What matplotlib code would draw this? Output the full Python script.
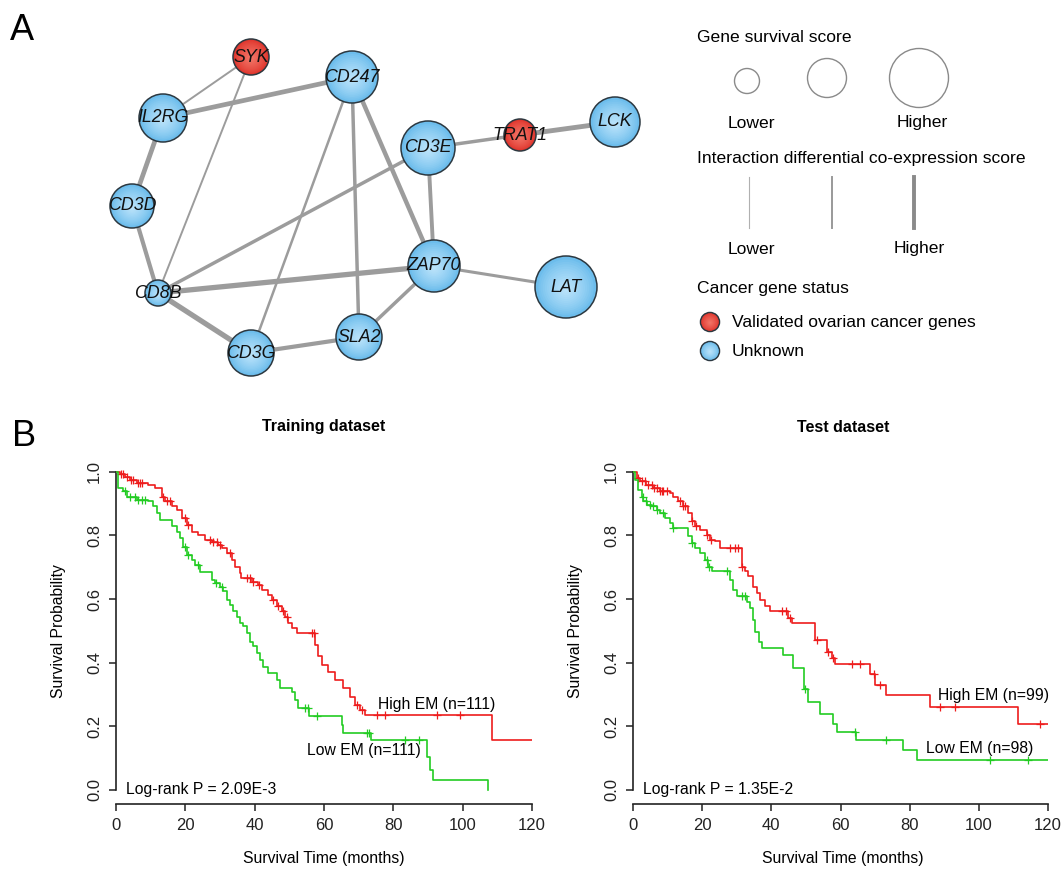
import numpy as np
import matplotlib
matplotlib.use("Agg")
from matplotlib import pyplot as plt
from matplotlib.patches import Circle
from matplotlib.colors import to_rgb

plt.rcParams['font.family'] = ['Liberation Sans', 'DejaVu Sans']

W, H = 1063, 869

# ---- panel A: network (positions in pixels) ----
gene_names = ["SYK", "CD247", "IL2RG", "CD3E", "TRAT1", "LCK",
              "CD3D", "ZAP70", "LAT", "CD8B", "SLA2", "CD3G"]
gene_x = [251, 352, 163, 428, 520, 615, 132, 434, 566, 158, 359, 251]
gene_y = [57, 77, 118, 148, 135, 122, 206, 266, 287, 293, 337, 353]
gene_r = [18, 26, 24, 27, 16, 25, 22, 26, 31, 13, 23, 23]
gene_validated = [1, 0, 0, 0, 1, 0, 0, 0, 0, 0, 0, 0]

edge_a = ["SYK", "SYK", "IL2RG", "IL2RG", "CD3D", "CD247", "CD247", "CD247", "CD3E",
          "CD3E", "TRAT1", "CD3E", "CD8B", "CD8B", "CD3G", "SLA2", "ZAP70"]
edge_b = ["IL2RG", "CD8B", "CD247", "CD3D", "CD8B", "CD3G", "SLA2", "ZAP70", "CD8B",
          "TRAT1", "LCK", "ZAP70", "ZAP70", "CD3G", "SLA2", "ZAP70", "LAT"]
edge_w = [1.4, 1.4, 3.4, 3.4, 3.0, 1.8, 2.5, 3.2, 2.5,
          2.5, 3.5, 2.8, 3.8, 3.8, 3.0, 2.5, 2.2]

# ---- panel B: Kaplan-Meier curves (months, survival) ----
train_hi_t = [0, 1.2, 2.6, 4.0, 6.0, 9.3, 11.2, 13.2, 14.1, 16.1, 17.5, 18.9, 20.4, 21.8,
              23.7, 25.7, 27.6, 29.5, 30.5, 31.9, 33.4, 34.3, 35.8, 36.2, 39.1, 41.1, 42.0,
              43.9, 44.9, 46.3, 47.8, 48.7, 49.7, 50.7, 52.1, 57.4, 58.3, 59.3, 61.2, 63.2,
              65.4, 67.5, 68.9, 70.4, 71.8, 108.5]
train_hi_s = [1.0, 0.994, 0.985, 0.975, 0.964, 0.959, 0.949, 0.922, 0.907, 0.891, 0.880,
              0.854, 0.833, 0.812, 0.802, 0.786, 0.778, 0.770, 0.760, 0.744, 0.723, 0.702,
              0.681, 0.666, 0.655, 0.645, 0.629, 0.613, 0.597, 0.577, 0.561, 0.545, 0.524,
              0.508, 0.493, 0.456, 0.420, 0.393, 0.372, 0.346, 0.320, 0.293, 0.267, 0.252,
              0.236, 0.157]
train_hi_cens = [1.5, 2.1, 3.1, 4.3, 5.0, 6.3, 6.9, 7.4, 13.6, 14.6, 15.6, 19.9, 20.9, 27.1,
                 28.1, 29.0, 30.0, 33.0, 37.7, 38.7, 39.6, 41.3, 45.4, 46.8, 48.3, 49.2,
                 56.4, 57.0, 69.4, 70.9, 75.2, 77.6, 92.5, 99.2]

train_lo_t = [0, 0.7, 2.1, 3.1, 6.0, 9.3, 10.8, 11.7, 12.7, 16.1, 17.5, 18.5, 19.4, 20.4,
              21.8, 22.8, 24.2, 27.6, 28.6, 30.0, 31.0, 31.9, 32.9, 33.8, 34.8, 35.8, 36.7,
              37.7, 38.7, 39.6, 40.6, 41.5, 42.5, 43.9, 46.3, 47.3, 50.7, 51.6, 52.6, 55.7,
              65.1, 65.6, 73.7, 89.6, 90.5, 91.5, 107.4]
train_lo_s = [1.0, 0.949, 0.938, 0.922, 0.912, 0.907, 0.891, 0.870, 0.849, 0.828, 0.812,
              0.791, 0.765, 0.739, 0.723, 0.708, 0.686, 0.660, 0.650, 0.639, 0.624, 0.597,
              0.582, 0.561, 0.545, 0.524, 0.514, 0.493, 0.466, 0.451, 0.430, 0.409, 0.388,
              0.367, 0.346, 0.320, 0.309, 0.283, 0.257, 0.231, 0.204, 0.178, 0.157, 0.105,
              0.063, 0.031, 0.0]
train_lo_cens = [2.6, 4.0, 5.5, 6.4, 7.4, 8.4, 19.9, 20.9, 23.7, 28.9, 30.5, 54.5, 55.5,
                 57.9, 72.3, 73.0, 83.4, 87.5]

test_hi_t = [0, 1.1, 2.0, 3.9, 5.9, 7.8, 10.7, 11.7, 13.1, 14.5, 16.0, 17.0, 17.9, 19.4,
             21.3, 22.3, 23.7, 25.2, 31.4, 32.4, 33.3, 34.8, 35.8, 36.7, 38.2, 39.6, 44.9,
             45.9, 52.6, 56.0, 57.5, 58.4, 68.4, 70.0, 73.2, 86.0, 111.3]
test_hi_s = [1.0, 0.980, 0.970, 0.959, 0.949, 0.938, 0.933, 0.922, 0.907, 0.891, 0.870,
             0.844, 0.828, 0.818, 0.802, 0.786, 0.781, 0.760, 0.702, 0.687, 0.671, 0.639,
             0.619, 0.597, 0.577, 0.561, 0.540, 0.524, 0.472, 0.435, 0.414, 0.395, 0.366,
             0.330, 0.297, 0.260, 0.206]
test_hi_cens = [1.5, 2.5, 3.5, 4.4, 5.4, 6.2, 6.8, 7.8, 8.3, 8.8, 9.7, 13.6, 14.5, 15.0,
                17.2, 18.2, 21.5, 22.5, 28.1, 29.5, 30.5, 31.6, 43.0, 44.2, 45.4, 53.1,
                56.5, 57.7, 63.2, 65.6, 69.7, 71.4, 88.8, 93.1, 117.7]

test_lo_t = [0, 0.6, 1.5, 2.5, 3.0, 4.0, 5.4, 6.8, 7.8, 9.3, 10.7, 11.7, 16.0, 17.0, 17.9,
             19.4, 20.8, 21.8, 22.7, 28.1, 29.0, 30.0, 32.9, 33.8, 34.8, 35.3, 36.5, 37.2,
             43.3, 46.2, 49.5, 50.5, 54.2, 57.7, 58.9, 64.5, 78.1, 82.0]
test_lo_s = [1.0, 0.975, 0.943, 0.922, 0.907, 0.896, 0.891, 0.880, 0.870, 0.854, 0.839,
             0.823, 0.797, 0.776, 0.760, 0.744, 0.723, 0.702, 0.687, 0.660, 0.629, 0.608,
             0.592, 0.571, 0.535, 0.498, 0.466, 0.445, 0.425, 0.383, 0.316, 0.275, 0.240,
             0.206, 0.183, 0.157, 0.126, 0.094]
test_lo_cens = [2.9, 3.9, 4.9, 5.9, 6.8, 8.8, 11.7, 17.2, 21.3, 21.9, 27.1, 31.4, 32.4,
                49.6, 64.2, 73.2, 103.2, 114.3]

x_ticks = [0, 20, 40, 60, 80, 100, 120]
y_ticks = [0.0, 0.2, 0.4, 0.6, 0.8, 1.0]

RED = '#ee1c1c'
GREEN = '#22cc22'


def blend(c1, c2, f):
    a, b = np.array(to_rgb(c1)), np.array(to_rgb(c2))
    return tuple(a * (1 - f) + b * f)


def draw_node(ax, x, y, r, validated):
    outer, inner = ('#e0372f', '#f3786a') if validated else ('#6dbdec', '#bfe5fb')
    ax.add_patch(Circle((x, y), r, facecolor=outer, edgecolor='#2c3840', lw=1.1, zorder=3))
    n = 14
    for k in range(1, n):
        f = 1 - k / n
        ax.add_patch(Circle((x, y + r * 0.08 * (k / n)), r * f * 0.96,
                            facecolor=blend(outer, inner, (k / n) ** 0.8),
                            edgecolor='none', zorder=3))


def km(ax, times, surv, end, cens, color):
    t = np.append(times, end)
    s = np.append(surv, surv[-1])
    ax.step(t, s, where='post', color=color, lw=1.2, zorder=3)
    idx = np.searchsorted(times, cens, side='right') - 1
    ax.plot(cens, np.array(surv)[idx], ls='none', marker='+', ms=6, mew=0.9,
            color=color, zorder=3)


fig = plt.figure(figsize=(W / 100, H / 100), dpi=100)
ax = fig.add_axes([0, 0, 1, 1])
ax.set_xlim(0, W)
ax.set_ylim(H, 0)
ax.axis('off')

pos = {g: (x, y) for g, x, y in zip(gene_names, gene_x, gene_y)}
for a, b, w in zip(edge_a, edge_b, edge_w):
    ax.plot([pos[a][0], pos[b][0]], [pos[a][1], pos[b][1]], color='#9c9c9c', lw=w,
            solid_capstyle='butt', zorder=1)
for g, x, y, r, v in zip(gene_names, gene_x, gene_y, gene_r, gene_validated):
    draw_node(ax, x, y, r, v)
    ax.text(x, y, g, fontsize=12.8, style='italic', ha='center', va='center',
            color='#111111', zorder=4)

ax.text(22, 30, "A", fontsize=26, ha='center', va='center')
ax.text(24, 437, "B", fontsize=26, ha='center', va='center')

# legend of panel A
lfs = 12.6
ax.text(697, 37, "Gene survival score", fontsize=lfs, va='center')
for cx, cy, cr in [(747, 81, 12.5), (827, 78, 19.5), (919, 78, 29.5)]:
    ax.add_patch(Circle((cx, cy), cr, facecolor='none', edgecolor='#8a8a8a', lw=1.0))
ax.text(751, 123, "Lower", fontsize=lfs, ha='center', va='center')
ax.text(922, 123, "Higher", fontsize=lfs, ha='center', va='center')
ax.text(697, 159, "Interaction differential co-expression score", fontsize=lfs, va='center')
for lx, lw, lc in [(749, 0.8, '#b0b0b0'), (832, 1.4, '#999999'), (914, 2.8, '#8a8a8a')]:
    ax.plot([lx, lx], [177, 228], color=lc, lw=lw)
ax.text(751, 249, "Lower", fontsize=lfs, ha='center', va='center')
ax.text(919, 249, "Higher", fontsize=lfs, ha='center', va='center')
ax.text(697, 288, "Cancer gene status", fontsize=lfs, va='center')
draw_node(ax, 710, 322, 9.5, 1)
draw_node(ax, 710, 351, 9.5, 0)
ax.text(732, 322, "Validated ovarian cancer genes", fontsize=lfs, va='center')
ax.text(732, 351, "Unknown", fontsize=lfs, va='center')

# panel B
panels = [
    (116, 416, "Training dataset", 324,
     (train_hi_t, train_hi_s, 120, train_hi_cens), (train_lo_t, train_lo_s, 107.4, train_lo_cens),
     ("High EM (n=111)", 75.7, 0.268), ("Low EM (n=111)", 55.1, 0.125), "Log-rank P = 2.09E-3"),
    (633, 415, "Test dataset", 843,
     (test_hi_t, test_hi_s, 120, test_hi_cens), (test_lo_t, test_lo_s, 120, test_lo_cens),
     ("High EM (n=99)", 88.3, 0.298), ("Low EM (n=98)", 84.6, 0.130), "Log-rank P = 1.35E-2"),
]
fs = 11.3
for left, width, title, cx, hi, lo, hi_lab, lo_lab, ptxt in panels:
    kax = fig.add_axes([left / W, (H - 804) / H, width / W, (804 - 459) / H])
    kax.patch.set_visible(False)
    km(kax, *hi, RED)
    km(kax, *lo, GREEN)
    kax.set_xlim(0, 120)
    kax.set_ylim(-0.044, 1.04)
    for sp in ['top', 'right']:
        kax.spines[sp].set_visible(False)
    kax.spines['left'].set_bounds(0, 1)
    kax.spines['bottom'].set_bounds(0, 120)
    for sp in ['left', 'bottom']:
        kax.spines[sp].set_linewidth(1.2)
        kax.spines[sp].set_color('#222222')
    kax.set_xticks(x_ticks)
    kax.set_yticks(y_ticks)
    kax.set_yticklabels(["%.1f" % v for v in y_ticks], rotation=90, va='center')
    kax.tick_params(direction='out', length=5, width=1.1, labelsize=12, pad=5, colors='#222222')
    kax.text(hi_lab[1], hi_lab[2], hi_lab[0], fontsize=fs, va='center')
    kax.text(lo_lab[1], lo_lab[2], lo_lab[0], fontsize=fs, va='center')
    kax.text(2.9, 0.0, ptxt, fontsize=fs, va='center')
    ax.text(cx, 427, title, fontsize=11.5, fontweight='bold', ha='center', va='center')
    ax.text(cx, 858, "Survival Time (months)", fontsize=fs, ha='center', va='center')
    ax.text(left - 57.5, 631, "Survival Probability", fontsize=fs, rotation=90,
            ha='center', va='center')

fig.savefig("out.png", dpi=100)
